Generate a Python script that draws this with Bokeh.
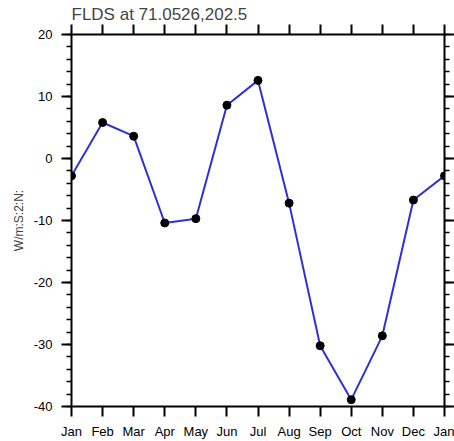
from bokeh.plotting import figure
from bokeh.models import LinearAxis, FixedTicker, SingleIntervalTicker, Range1d
from bokeh.embed import file_html
from bokeh.resources import INLINE

months = ["Jan", "Feb", "Mar", "Apr", "May", "Jun", "Jul", "Aug", "Sep", "Oct", "Nov", "Dec", "Jan"]
flds = [-2.8, 5.8, 3.6, -10.4, -9.7, 8.6, 12.6, -7.2, -30.2, -38.9, -28.6, -6.7, -2.8]
y_ticks = [-40, -30, -20, -10, 0, 10, 20]
x_pos = list(range(len(months)))

FONT = "Liberation Sans"

p = figure(width=454, height=441, output_backend="svg", toolbar_location=None,
           x_range=Range1d(0, 12), y_range=Range1d(-40, 20),
           min_border_left=71, min_border_right=9, min_border_top=34, min_border_bottom=34,
           x_axis_location=None, y_axis_location=None)
p.grid.visible = False
p.outline_line_color = None
p.background_fill_color = "white"
p.border_fill_color = "white"

p.title.text = "FLDS at 71.0526,202.5"
p.title.text_font = FONT
p.title.text_font_size = "17px"
p.title.text_font_style = "normal"
p.title.align = "left"
p.title.standoff = 1

def style(ax, labels=True):
    ax.axis_line_width = 2
    ax.axis_line_color = "black"
    ax.major_tick_line_width = 2
    ax.minor_tick_line_width = 1.5
    ax.major_tick_out = 10
    ax.major_tick_in = 0
    ax.minor_tick_out = 5
    ax.minor_tick_in = 0
    ax.major_label_text_font = FONT
    ax.major_label_text_font_size = "13px"
    ax.major_label_text_color = "black"
    if not labels:
        ax.major_label_text_font_size = "0px"
        ax.major_label_text_alpha = 0

xt = FixedTicker(ticks=x_pos, minor_ticks=[])
overrides = {i: m for i, m in enumerate(months)}

xb = LinearAxis(ticker=xt, major_label_overrides=overrides, major_label_standoff=7)
style(xb)
p.add_layout(xb, "below")
xa = LinearAxis(ticker=xt, major_label_overrides={i: "" for i in x_pos})
style(xa, labels=False)
p.add_layout(xa, "above")

yl = LinearAxis(ticker=SingleIntervalTicker(interval=10, num_minor_ticks=5),
                major_label_overrides={v: str(v) for v in y_ticks},
                axis_label="W/m:S:2:N:", major_label_standoff=9, axis_label_standoff=5)
style(yl)
yl.axis_label_text_font = FONT
yl.axis_label_text_font_size = "12px"
yl.axis_label_text_font_style = "normal"
p.add_layout(yl, "left")
yr = LinearAxis(ticker=SingleIntervalTicker(interval=10, num_minor_ticks=5),
                major_label_overrides={v: "" for v in y_ticks})
style(yr, labels=False)
p.add_layout(yr, "right")

p.line(x_pos, flds, line_color="#2f2fd6", line_width=2)
p.scatter(x_pos, flds, size=8, fill_color="black", line_color="black")

open("out.html", "w").write(file_html(p, INLINE))
